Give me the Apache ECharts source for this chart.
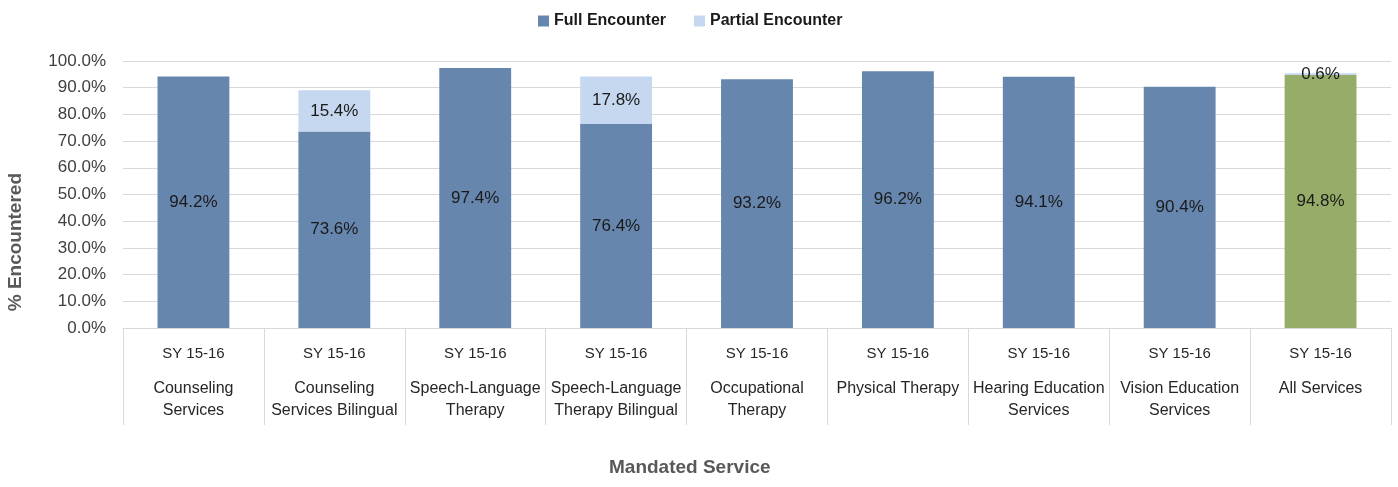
<!DOCTYPE html>
<html>
<head>
<meta charset="utf-8">
<script src="https://cdn.jsdelivr.net/npm/echarts@6/dist/echarts.min.js"></script>
<style>html,body{margin:0;padding:0;background:#fff;}#c{width:1398px;height:487px;}</style>
</head>
<body>
<div id="c"></div>
<script>
var periods = ['SY 15-16','SY 15-16','SY 15-16','SY 15-16','SY 15-16','SY 15-16','SY 15-16','SY 15-16','SY 15-16'];
var services = ['Counseling\nServices','Counseling\nServices Bilingual','Speech-Language\nTherapy','Speech-Language\nTherapy Bilingual','Occupational\nTherapy','Physical Therapy','Hearing Education\nServices','Vision Education\nServices','All Services'];
var fullEncounter = [94.2, 73.6, 97.4, 76.4, 93.2, 96.2, 94.1, 90.4, 94.8];
var partialEncounter = [null, 15.4, null, 17.8, null, null, null, null, 0.6];
var yTicks = [0,10,20,30,40,50,60,70,80,90,100];

var FONT = '"Liberation Sans", Arial, sans-serif';
var BLUE = '#6686ad', LIGHT = '#c5d8ef', GREEN = '#95ad68';

var cats = periods.map(function(p,i){ return p + '|' + services[i]; });
var chart = echarts.init(document.getElementById('c'));
chart.setOption({
  animation: false,
  textStyle: {fontFamily: FONT},
  legend: {
    top: 8, left: 533,
    itemWidth: 11, itemHeight: 11, itemGap: 28,
    icon: 'rect',
    textStyle: {fontSize: 16, fontWeight: 'bold', color: '#1a1a1a', fontFamily: FONT},
    data: ['Full Encounter','Partial Encounter']
  },
  grid: {left: 123, right: 7, top: 61, bottom: 159, containLabel: false},
  xAxis: {
    type: 'category',
    data: cats,
    axisLine: {lineStyle: {color: '#d9d9d9'}},
    axisTick: {show: true, interval: 0, length: 97, lineStyle: {color: '#d9d9d9'}},
    axisLabel: {
      interval: 0, margin: 2,
      formatter: function(v){
        var parts = v.split('|');
        var lines = parts[1].split('\n').map(function(l){ return '{b|' + l + '}'; });
        return '{a|' + parts[0] + '}\n' + lines.join('\n');
      },
      rich: {
        a: {fontSize: 15, lineHeight: 48, color: '#262626', fontFamily: FONT},
        b: {fontSize: 16, lineHeight: 22, color: '#262626', fontFamily: FONT}
      }
    }
  },
  yAxis: {
    type: 'value', min: yTicks[0], max: yTicks[yTicks.length-1], interval: 10,
    axisLine: {show: false}, axisTick: {show: false},
    splitLine: {lineStyle: {color: '#d9d9d9'}},
    axisLabel: {fontSize: 17, color: '#404040', margin: 17, fontFamily: FONT,
      formatter: function(v){ return v.toFixed(1) + '%'; }}
  },
  graphic: [
    {type: 'text', left: 6, top: 173, rotation: Math.PI/2,
     style: {text: '% Encountered', fontSize: 19, fontWeight: 'bold', fill: '#595959', fontFamily: FONT}},
    {type: 'text', left: 609, top: 458,
     style: {text: 'Mandated Service', fontSize: 19, fontWeight: 'bold', fill: '#595959', fontFamily: FONT}}
  ],
  series: [
    {
      name: 'Full Encounter', type: 'bar', stack: 's', barWidth: '51%',
      itemStyle: {color: BLUE},
      label: {show: true, position: 'inside', fontSize: 17, color: '#1a1a1a', fontFamily: FONT,
        formatter: function(p){ return p.value.toFixed(1) + '%'; }},
      data: fullEncounter.map(function(v,i){
        return i === fullEncounter.length-1 ? {value: v, itemStyle: {color: GREEN}} : v;
      })
    },
    {
      name: 'Partial Encounter', type: 'bar', stack: 's', barWidth: '51%',
      itemStyle: {color: LIGHT},
      label: {show: true, position: 'inside', fontSize: 17, color: '#1a1a1a', fontFamily: FONT,
        formatter: function(p){ return p.value == null ? '' : p.value.toFixed(1) + '%'; }},
      labelLayout: {hideOverlap: false},
      data: partialEncounter
    }
  ]
});
</script>
</body>
</html>
